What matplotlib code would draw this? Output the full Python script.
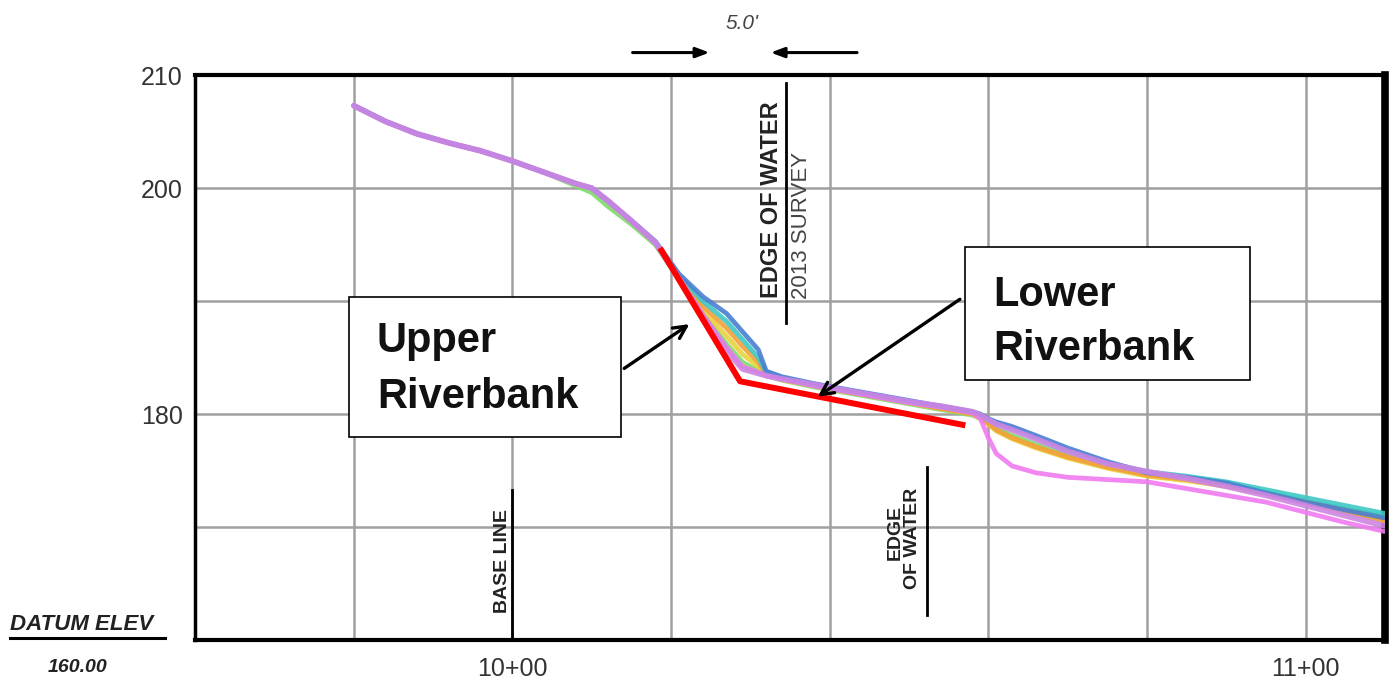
import matplotlib
matplotlib.use("Agg")
import matplotlib.pyplot as plt
from matplotlib.patches import Rectangle

# ---------------- data ----------------
STATIONS = [980, 984, 988, 992, 996, 1000, 1004, 1008, 1010, 1012, 1015, 1018,
            1021, 1024, 1027, 1029, 1031, 1032,
            1034, 1038, 1042, 1046, 1050, 1054, 1058,
            1059, 1060, 1061, 1063, 1066, 1070, 1075, 1080, 1085, 1090, 1095, 1100, 1105, 1110]

GREEN = [207.3, 205.9, 204.8, 204.0, 203.3, 202.4, 201.4, 200.2, 199.6, 198.4, 196.8, 195.0,
         192.0, 188.9, 186.2, 184.6, 183.8, 183.4,
         183.0, 182.4, 181.9, 181.4, 180.9, 180.4, 179.9,
         179.6, 179.2, 178.7, 178.1, 177.3, 176.4, 175.4, 174.7, 174.3, 173.8, 173.1, 172.3, 171.6, 170.9]
YELLOW = [207.3, 205.9, 204.8, 204.0, 203.3, 202.4, 201.4, 200.4, 200.0, 198.9, 197.1, 195.2,
          192.1, 189.2, 186.9, 185.3, 184.2, 183.5,
          183.0, 182.5, 182.0, 181.5, 181.0, 180.5, 180.0,
          179.6, 179.1, 178.5, 177.8, 177.0, 176.1, 175.2, 174.5, 174.1, 173.6, 172.9, 172.1, 171.3, 170.5]
ORANGE = [207.3, 205.9, 204.8, 204.0, 203.3, 202.4, 201.4, 200.4, 200.0, 198.9, 197.1, 195.2,
          192.2, 189.6, 187.6, 186.0, 184.6, 183.5,
          183.1, 182.5, 182.0, 181.5, 181.0, 180.5, 180.0,
          179.7, 179.2, 178.6, 177.9, 177.1, 176.2, 175.3, 174.6, 174.2, 173.7, 173.0, 172.2, 171.4, 170.6]
CYAN = [207.3, 205.9, 204.8, 204.0, 203.3, 202.4, 201.4, 200.4, 200.0, 198.9, 197.1, 195.2,
        192.3, 190.0, 188.2, 186.6, 185.0, 183.7,
        183.2, 182.6, 182.1, 181.6, 181.1, 180.7, 180.2,
        179.9, 179.5, 179.2, 178.7, 177.9, 176.8, 175.7, 174.9, 174.5, 174.0, 173.3, 172.6, 171.9, 171.2]
PINK = [207.3, 205.9, 204.8, 204.0, 203.3, 202.4, 201.4, 200.4, 200.0, 198.9, 197.1, 195.2,
        192.0, 188.8, 185.9, 184.2, 183.7, 183.4,
        183.1, 182.5, 182.0, 181.5, 181.0, 180.6, 180.1,
        179.6, 177.9, 176.5, 175.4, 174.8, 174.4, 174.2, 174.0, 173.4, 172.8, 172.2, 171.3, 170.4, 169.6]
BLUE = [207.3, 205.9, 204.8, 204.0, 203.3, 202.4, 201.4, 200.4, 200.0, 198.9, 197.1, 195.3,
        192.4, 190.4, 188.9, 187.3, 185.7, 183.8,
        183.3, 182.7, 182.2, 181.7, 181.2, 180.7, 180.2,
        180.0, 179.6, 179.3, 178.9, 178.1, 177.0, 175.8, 174.8, 174.4, 173.9, 173.0, 172.2, 171.5, 170.8]
VIOLET = [207.3, 205.9, 204.8, 204.0, 203.3, 202.4, 201.4, 200.4, 200.0, 198.9, 197.1, 195.2,
          192.0, 188.7, 185.6, 184.0, 183.6, 183.4,
          183.1, 182.6, 182.1, 181.6, 181.1, 180.7, 180.2,
          179.9, 179.5, 179.1, 178.6, 177.8, 176.7, 175.6, 174.9, 174.3, 173.6, 172.8, 171.9, 171.0, 170.1]

RED_STA = [1018.6, 1028.7, 1057.1]
RED_ELEV = [194.7, 182.9, 179.0]

Y_TICKS = [170, 180, 190, 200, 210]
Y_LABELS = ["", "180", "", "200", "210"]
X_TICKS = [980, 1000, 1020, 1040, 1060, 1080, 1100]
X_LABELS = ["", "10+00", "", "", "", "", "11+00"]

# ---------------- figure ----------------
fig = plt.figure(figsize=(13.94, 6.96), dpi=100)
ax = fig.add_axes([0.140, 0.0805, 0.8535, 0.8115])
ax.set_xlim(960, 1110)
ax.set_ylim(160, 210)

sans = ["Liberation Sans", "DejaVu Sans"]
ax.set_yticks(Y_TICKS)
ax.set_yticklabels(Y_LABELS, fontsize=18, color="#333333", family=sans)
ax.set_xticks(X_TICKS)
ax.set_xticklabels(X_LABELS, fontsize=18, color="#333333", family=sans)
ax.tick_params(axis="both", length=0)
ax.tick_params(axis="y", pad=9)
ax.tick_params(axis="x", pad=12)
ax.grid(True, color="#a0a0a0", linewidth=1.8, zorder=0)
ax.set_axisbelow(True)
for side, lw in (("top", 3.0), ("bottom", 3.0), ("left", 2.5), ("right", 5.5)):
    ax.spines[side].set_linewidth(lw)
    ax.spines[side].set_color("black")

series = [
    (GREEN, "#7fdc6a", 3.4),
    (YELLOW, "#e8d23c", 3.4),
    (ORANGE, "#f2a03a", 3.4),
    (CYAN, "#3ec9c4", 3.4),
    (PINK, "#f07af0", 3.4),
    (BLUE, "#4a7fd2", 3.4),
    (VIOLET, "#cf85e4", 4.2),
]
for vals, col, lw in series:
    ax.plot(STATIONS, vals, color=col, linewidth=lw, alpha=0.9,
            solid_capstyle="round", zorder=3)

ax.plot(RED_STA, RED_ELEV, color="#ff0000", linewidth=4.3, zorder=4,
        solid_capstyle="butt")

# annotation boxes
ax.add_patch(Rectangle((979.4, 178.0), 34.3, 12.4, facecolor="white",
                       edgecolor="black", linewidth=1.2, zorder=5))
ax.add_patch(Rectangle((1057.1, 183.0), 35.9, 11.8, facecolor="white",
                       edgecolor="black", linewidth=1.2, zorder=5))
bold = dict(fontsize=30, fontweight="bold", family=sans, color="#111111", zorder=6)
ax.text(982.9, 185.5, "Upper", va="baseline", ha="left", **bold)
ax.text(982.9, 180.5, "Riverbank", va="baseline", ha="left", **bold)
ax.text(1060.6, 189.6, "Lower", va="baseline", ha="left", **bold)
ax.text(1060.6, 184.8, "Riverbank", va="baseline", ha="left", **bold)

arrow = dict(arrowstyle="->,head_length=0.9,head_width=0.45", color="black", lw=2.4)
ax.annotate("", xy=(1022.6, 188.1), xytext=(1013.8, 183.9), arrowprops=arrow, zorder=7)
ax.annotate("", xy=(1038.2, 181.4), xytext=(1056.7, 190.3), arrowprops=arrow, zorder=7)

# dimension arrows above the frame
dim = dict(arrowstyle="-|>,head_length=0.8,head_width=0.3", color="black", lw=2.2)
ax.annotate("", xy=(1025.2, 212.0), xytext=(1014.8, 212.0), arrowprops=dim,
            annotation_clip=False)
ax.annotate("", xy=(1032.2, 212.0), xytext=(1043.8, 212.0), arrowprops=dim,
            annotation_clip=False)
ax.text(1029.0, 214.6, "5.0'", ha="center", va="center", fontsize=15,
        style="italic", color="#444444", family=sans, clip_on=False)

# vertical drawing notes
ax.plot([1034.5, 1034.5], [188.1, 209.3], color="black", lw=2.0, zorder=2)
ax.text(1032.6, 199.0, "EDGE OF WATER", rotation=90, ha="center", va="center",
        fontsize=17, fontweight="bold", color="#222222", family=sans, zorder=2)
ax.text(1036.4, 196.7, "2013 SURVEY", rotation=90, ha="center", va="center",
        fontsize=16, color="#444444", family=sans, zorder=2)

ax.plot([1052.3, 1052.3], [162.2, 175.3], color="black", lw=2.0, zorder=2)
ax.text(1048.2, 169.5, "EDGE", rotation=90, ha="center", va="center",
        fontsize=14, fontweight="bold", color="#222222", family=sans, zorder=2)
ax.text(1050.5, 169.0, "OF WATER", rotation=90, ha="center", va="center",
        fontsize=14, fontweight="bold", color="#222222", family=sans, zorder=2)

ax.plot([1000.0, 1000.0], [160.0, 173.3], color="black", lw=2.0, zorder=2)
ax.text(998.8, 167.0, "BASE LINE", rotation=90, ha="center", va="center",
        fontsize=14, fontweight="bold", color="#222222", family=sans, zorder=2)

# datum label
fig.text(10 / 1394, 1 - 630 / 696, "DATUM ELEV", ha="left", va="baseline",
         fontsize=16, fontweight="bold", style="italic", color="#222222", family=sans)
fig.add_artist(plt.Line2D([10 / 1394, 165 / 1394], [1 - 638 / 696, 1 - 638 / 696],
                          color="black", lw=2.2))
fig.text(78 / 1394, 1 - 672 / 696, "160.00", ha="center", va="baseline",
         fontsize=14, fontweight="bold", style="italic", color="#222222", family=sans)

fig.savefig("out.png", dpi=100, facecolor="white")
